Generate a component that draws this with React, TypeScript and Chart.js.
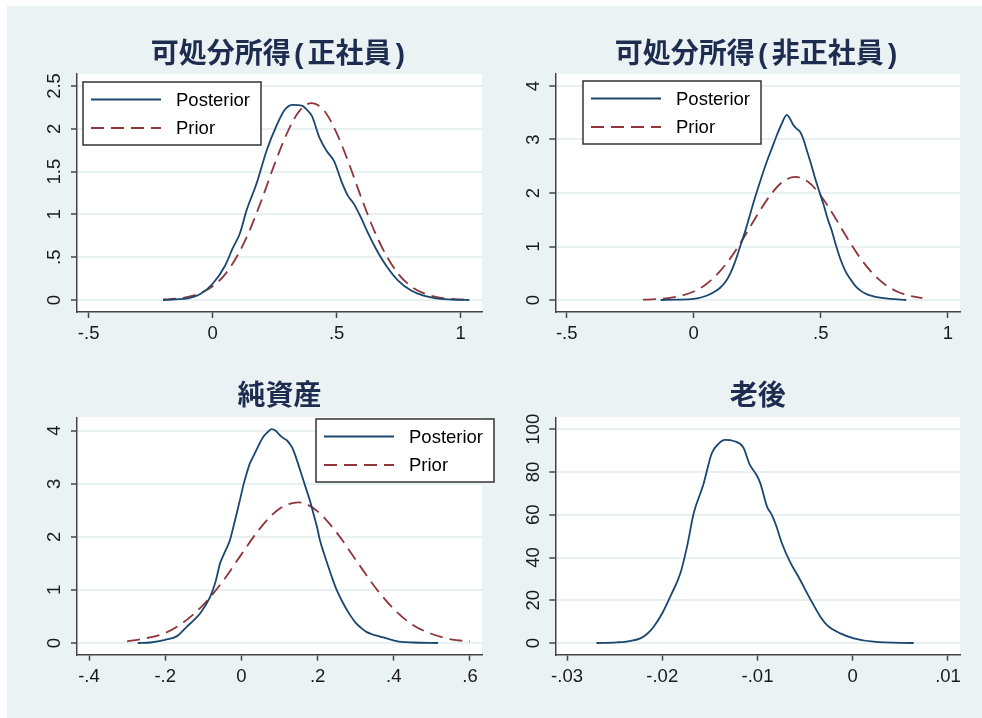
import React, { useEffect, useRef } from "react";
import { Chart, registerables } from "chart.js";

Chart.register(...registerables);

// ---------------- data ----------------
const titles = ["可処分所得(正社員)", "可処分所得(非正社員)", "純資産", "老後"];
const seriesLabels = ["Posterior", "Prior"];

// panel 1: 可処分所得(正社員)
const p1PostX = [-0.2, -0.15, -0.1, -0.05, 0, 0.05, 0.08, 0.11, 0.137, 0.177, 0.218, 0.258, 0.29, 0.323, 0.36, 0.38, 0.4, 0.43, 0.46, 0.49, 0.52, 0.545, 0.57, 0.6, 0.63, 0.66, 0.7, 0.75, 0.8, 0.85, 0.9, 0.95, 1.0, 1.035];
const p1PostY = [0, 0.008, 0.02, 0.07, 0.19, 0.4, 0.6, 0.78, 1.05, 1.36, 1.75, 2.04, 2.22, 2.28, 2.27, 2.22, 2.15, 1.9, 1.74, 1.62, 1.38, 1.22, 1.12, 0.95, 0.76, 0.59, 0.4, 0.22, 0.11, 0.05, 0.02, 0.007, 0.002, 0];
const p1PriorX = [-0.2, -0.15, -0.1, -0.05, 0, 0.05, 0.1, 0.15, 0.2, 0.25, 0.3, 0.35, 0.4, 0.45, 0.5, 0.55, 0.6, 0.65, 0.7, 0.75, 0.8, 0.85, 0.9, 0.95, 1.0, 1.035];
const p1PriorY = [0.006, 0.015, 0.037, 0.08, 0.16, 0.3, 0.52, 0.82, 1.19, 1.59, 1.95, 2.21, 2.3, 2.21, 1.95, 1.59, 1.19, 0.82, 0.52, 0.3, 0.16, 0.08, 0.037, 0.015, 0.006, 0.003];
const p1XTicks = [-0.5, 0, 0.5, 1];
const p1YTicks = [0, 0.5, 1, 1.5, 2, 2.5];

// panel 2: 可処分所得(非正社員)
const p2PostX = [-0.13, -0.07, 0, 0.05, 0.08, 0.104, 0.125, 0.143, 0.16, 0.182, 0.2, 0.215, 0.23, 0.248, 0.267, 0.287, 0.307, 0.327, 0.345, 0.366, 0.38, 0.392, 0.405, 0.419, 0.432, 0.445, 0.46, 0.478, 0.494, 0.51, 0.527, 0.543, 0.56, 0.576, 0.595, 0.615, 0.635, 0.655, 0.68, 0.707, 0.74, 0.773, 0.836];
const p2PostY = [0, 0.006, 0.02, 0.08, 0.15, 0.23, 0.34, 0.49, 0.68, 0.99, 1.25, 1.49, 1.74, 2.02, 2.3, 2.58, 2.83, 3.08, 3.28, 3.46, 3.38, 3.27, 3.2, 3.14, 3.0, 2.8, 2.57, 2.27, 2.03, 1.8, 1.52, 1.3, 1.02, 0.78, 0.56, 0.4, 0.27, 0.18, 0.11, 0.07, 0.04, 0.02, 0];
const p2PriorX = [-0.2, -0.15, -0.1, -0.05, 0, 0.05, 0.1, 0.15, 0.2, 0.25, 0.3, 0.35, 0.4, 0.45, 0.5, 0.55, 0.6, 0.65, 0.7, 0.75, 0.8, 0.85, 0.9];
const p2PriorY = [0.006, 0.015, 0.037, 0.08, 0.16, 0.3, 0.52, 0.82, 1.19, 1.59, 1.95, 2.21, 2.3, 2.21, 1.95, 1.59, 1.19, 0.82, 0.52, 0.3, 0.16, 0.08, 0.037];
const p2XTicks = [-0.5, 0, 0.5, 1];
const p2YTicks = [0, 1, 2, 3, 4];

// panel 3: 純資産
const p3PostX = [-0.272, -0.239, -0.2, -0.169, -0.143, -0.125, -0.108, -0.082, -0.068, -0.056, -0.043, -0.03, -0.021, -0.012, -0.003, 0.005, 0.014, 0.022, 0.031, 0.045, 0.058, 0.07, 0.079, 0.09, 0.1, 0.11, 0.119, 0.128, 0.136, 0.145, 0.154, 0.162, 0.171, 0.18, 0.189, 0.198, 0.206, 0.217, 0.228, 0.239, 0.25, 0.267, 0.285, 0.3, 0.315, 0.328, 0.345, 0.36, 0.375, 0.39, 0.405, 0.42, 0.45, 0.516];
const p3PostY = [0, 0.01, 0.06, 0.13, 0.31, 0.43, 0.56, 0.87, 1.15, 1.5, 1.72, 1.94, 2.19, 2.45, 2.72, 2.97, 3.2, 3.38, 3.51, 3.72, 3.89, 3.98, 4.03, 4.0, 3.92, 3.86, 3.82, 3.74, 3.64, 3.46, 3.26, 3.08, 2.88, 2.68, 2.44, 2.2, 1.94, 1.68, 1.44, 1.21, 1.0, 0.75, 0.53, 0.38, 0.28, 0.21, 0.16, 0.13, 0.1, 0.07, 0.04, 0.02, 0.01, 0];
const p3PriorX = [-0.3, -0.25, -0.2, -0.15, -0.1, -0.05, 0, 0.05, 0.1, 0.15, 0.2, 0.25, 0.3, 0.35, 0.4, 0.45, 0.5, 0.55, 0.6];
const p3PriorY = [0.03, 0.09, 0.19, 0.4, 0.72, 1.15, 1.67, 2.17, 2.53, 2.65, 2.48, 2.08, 1.57, 1.06, 0.64, 0.34, 0.17, 0.07, 0.03];
const p3XTicks = [-0.4, -0.2, 0, 0.2, 0.4, 0.6];
const p3YTicks = [0, 1, 2, 3, 4];

// panel 4: 老後
const p4PostX = [-0.0269, -0.0248, -0.0234, -0.0223, -0.0216, -0.0209, -0.02, -0.019, -0.0181, -0.0174, -0.0167, -0.0157, -0.0148, -0.0141, -0.0134, -0.0125, -0.0115, -0.0108, -0.0101, -0.0097, -0.009, -0.0085, -0.008, -0.0075, -0.0066, -0.0057, -0.0045, -0.0034, -0.0027, -0.0013, 0.0001, 0.0022, 0.0064];
const p4PostY = [0, 0.3, 0.9, 2.2, 4.2, 7.6, 13.9, 23.2, 32.6, 45.1, 60.7, 73.9, 88.8, 93.2, 95.0, 94.5, 91.6, 83.3, 78.6, 74.7, 63.8, 59.9, 54.4, 47.4, 38.1, 31.0, 20.9, 12.3, 8.4, 4.5, 2.2, 0.6, 0];
const p4XTicks = [-0.03, -0.02, -0.01, 0, 0.01];
const p4YTicks = [0, 20, 40, 60, 80, 100];

// ---------------- styling ----------------
const BG = "#eaf2f3";
const GRID = "#e8f0f1";
const AXIS = "#444444";
const TEXT = "#1a1a1a";
const TITLE = "#1e2c50";
const NAVY = "#1a476f";
const MAROON = "#90353b";
const TICK_FONT_FAMILY = '"Liberation Sans", Arial, sans-serif';
const TITLE_FONT_FAMILY = '"Liberation Mono", "Noto Sans CJK JP", sans-serif';
const TICK_FONT_SIZE = 18.5;

const fmt = (v: number) => String(+Number(v).toFixed(6)).replace(/^(-?)0\./, "$1.");

const measureWidest = (vals: number[]) => {
  const c = document.createElement("canvas").getContext("2d")!;
  c.font = `normal ${TICK_FONT_SIZE}px ${TICK_FONT_FAMILY}`;
  return Math.max(...vals.map((v) => c.measureText(fmt(v)).width));
};

const plotBgPlugin = {
  id: "plotBg",
  beforeDraw(chart: any) {
    const { ctx, chartArea: a } = chart;
    ctx.save();
    ctx.fillStyle = "#ffffff";
    ctx.fillRect(a.left, a.top, a.right - a.left, a.bottom - a.top);
    ctx.restore();
  },
};

const boxLegendPlugin = {
  id: "boxLegend",
  afterDraw(chart: any, _args: any, opts: any) {
    if (!opts || !opts.show) return;
    const { ctx, chartArea: a } = chart;
    const x0 = a.left + opts.dx;
    const y0 = a.top + opts.dy;
    ctx.save();
    ctx.fillStyle = "#ffffff";
    ctx.fillRect(x0, y0, opts.w, opts.h);
    ctx.strokeStyle = "#333333";
    ctx.lineWidth = 1.5;
    ctx.setLineDash([]);
    ctx.strokeRect(x0, y0, opts.w, opts.h);
    chart.data.datasets.forEach((ds: any, i: number) => {
      const y = y0 + opts.rows[i];
      ctx.beginPath();
      ctx.setLineDash(ds.borderDash || []);
      ctx.strokeStyle = ds.borderColor;
      ctx.lineWidth = ds.borderWidth;
      ctx.moveTo(x0 + 8, y);
      ctx.lineTo(x0 + 78, y);
      ctx.stroke();
      ctx.setLineDash([]);
      ctx.fillStyle = "#000000";
      ctx.font = `normal ${TICK_FONT_SIZE}px ${TICK_FONT_FAMILY}`;
      ctx.textBaseline = "middle";
      ctx.textAlign = "left";
      ctx.fillText(ds.label, x0 + 93, y + 1);
    });
    ctx.restore();
  },
};

type PanelCfg = {
  title: string;
  left: number;
  top: number;
  w: number;
  h: number;
  yW: number;
  padRight: number;
  titleTop: number;
  titleBottom: number;
  xH: number;
  xMin: number;
  xMax: number;
  yMin: number;
  yMax: number;
  xTicks: number[];
  yTicks: number[];
  series: { x: number[]; y: number[]; label: string; color: string; dash: number[] }[];
  legend: { show: boolean; dx: number; dy: number };
};

const panels: PanelCfg[] = [
  {
    title: titles[0], left: 7, top: 6, w: 483, h: 354, yW: 70, padRight: 8,
    titleTop: 32.7, titleBottom: 1.7, xH: 48,
    xMin: -0.547, xMax: 1.086, yMin: -0.14, yMax: 2.64,
    xTicks: p1XTicks, yTicks: p1YTicks,
    series: [
      { x: p1PostX, y: p1PostY, label: seriesLabels[0], color: NAVY, dash: [] },
      { x: p1PriorX, y: p1PriorY, label: seriesLabels[1], color: MAROON, dash: [13, 7] },
    ],
    legend: { show: true, dx: 6, dy: 8 },
  },
  {
    title: titles[1], left: 490, top: 6, w: 492, h: 354, yW: 65.3, padRight: 22,
    titleTop: 32.7, titleBottom: 1.7, xH: 48,
    xMin: -0.545, xMax: 1.048, yMin: -0.224, yMax: 4.224,
    xTicks: p2XTicks, yTicks: p2YTicks,
    series: [
      { x: p2PostX, y: p2PostY, label: seriesLabels[0], color: NAVY, dash: [] },
      { x: p2PriorX, y: p2PriorY, label: seriesLabels[1], color: MAROON, dash: [13, 7] },
    ],
    legend: { show: true, dx: 27.7, dy: 7 },
  },
  {
    title: titles[2], left: 7, top: 360, w: 490, h: 358, yW: 70, padRight: 15,
    titleTop: 21.2, titleBottom: 2.5, xH: 63.3,
    xMin: -0.4315, xMax: 0.6315, yMin: -0.22, yMax: 4.252,
    xTicks: p3XTicks, yTicks: p3YTicks,
    series: [
      { x: p3PostX, y: p3PostY, label: seriesLabels[0], color: NAVY, dash: [] },
      { x: p3PriorX, y: p3PriorY, label: seriesLabels[1], color: MAROON, dash: [13, 7] },
    ],
    legend: { show: true, dx: 239, dy: 1.7 },
  },
  {
    title: titles[3], left: 490, top: 360, w: 492, h: 358, yW: 65.3, padRight: 22,
    titleTop: 21.2, titleBottom: 2.5, xH: 63.3,
    xMin: -0.03123, xMax: 0.01126, yMin: -5.47, yMax: 105.6,
    xTicks: p4XTicks, yTicks: p4YTicks,
    series: [{ x: p4PostX, y: p4PostY, label: seriesLabels[0], color: NAVY, dash: [] }],
    legend: { show: false, dx: 0, dy: 0 },
  },
];

function makeConfig(p: PanelCfg): any {
  const tickFont = { family: TICK_FONT_FAMILY, size: TICK_FONT_SIZE, weight: "normal" as const };
  const widest = measureWidest(p.yTicks);
  const yPad = Math.max(0, 21.8 - 6 - widest / 2);
  return {
    type: "line",
    data: {
      datasets: p.series.map((s) => ({
        label: s.label,
        data: s.x.map((x, i) => ({ x, y: s.y[i] })),
        borderColor: s.color,
        backgroundColor: s.color,
        borderWidth: 1.8,
        borderDash: s.dash,
        pointRadius: 0,
        fill: false,
        cubicInterpolationMode: "monotone",
      })),
    },
    options: {
      responsive: false,
      animation: false,
      events: [],
      layout: { padding: { left: 0, right: p.padRight, top: 0, bottom: 0 } },
      plugins: {
        legend: { display: false },
        tooltip: { enabled: false },
        title: {
          display: true,
          text: p.title,
          fullSize: false,
          color: TITLE,
          font: { family: TITLE_FONT_FAMILY, size: 28, weight: "bold", lineHeight: 1.2 },
          padding: { top: p.titleTop, bottom: p.titleBottom },
        },
        boxLegend: { show: p.legend.show, dx: p.legend.dx, dy: p.legend.dy, w: 178, h: 63, rows: [17.5, 46] },
      },
      scales: {
        x: {
          type: "linear",
          min: p.xMin,
          max: p.xMax,
          afterBuildTicks: (s: any) => {
            s.ticks = p.xTicks.map((v) => ({ value: v }));
          },
          afterFit: (s: any) => {
            s.height = p.xH;
          },
          ticks: { callback: (v: any) => fmt(v), font: tickFont, color: TEXT, padding: 5, maxRotation: 0, minRotation: 0, autoSkip: false },
          grid: { drawOnChartArea: false, drawTicks: true, tickLength: 6, tickColor: AXIS, tickWidth: 1.5 },
          border: { display: true, color: AXIS, width: 1.5 },
        },
        y: {
          type: "linear",
          min: p.yMin,
          max: p.yMax,
          afterBuildTicks: (s: any) => {
            s.ticks = p.yTicks.map((v) => ({ value: v }));
          },
          afterFit: (s: any) => {
            s.width = p.yW;
          },
          ticks: { callback: (v: any) => fmt(v), font: tickFont, color: TEXT, padding: yPad, minRotation: 90, maxRotation: 90, crossAlign: "center", autoSkip: false },
          grid: { color: GRID, lineWidth: 2, drawOnChartArea: true, drawTicks: true, tickLength: 6, tickColor: AXIS, tickWidth: 1.5 },
          border: { display: true, color: AXIS, width: 1.5 },
        },
      },
    },
    plugins: [plotBgPlugin, boxLegendPlugin],
  };
}

function Panel({ p }: { p: PanelCfg }) {
  const ref = useRef<HTMLCanvasElement | null>(null);
  useEffect(() => {
    if (!ref.current) return;
    const chart = new Chart(ref.current, makeConfig(p));
    return () => chart.destroy();
  }, [p]);
  return (
    <canvas
      ref={ref}
      width={p.w}
      height={p.h}
      style={{ position: "absolute", left: p.left, top: p.top, width: p.w, height: p.h }}
    />
  );
}

export default function App() {
  return (
    <div style={{ position: "absolute", left: 0, top: 0, width: 982, height: 718, background: "#ffffff", overflow: "hidden" }}>
      <div style={{ position: "absolute", left: 7, top: 6, width: 975, height: 712, background: BG }} />
      {panels.map((p, i) => (
        <Panel key={i} p={p} />
      ))}
    </div>
  );
}
